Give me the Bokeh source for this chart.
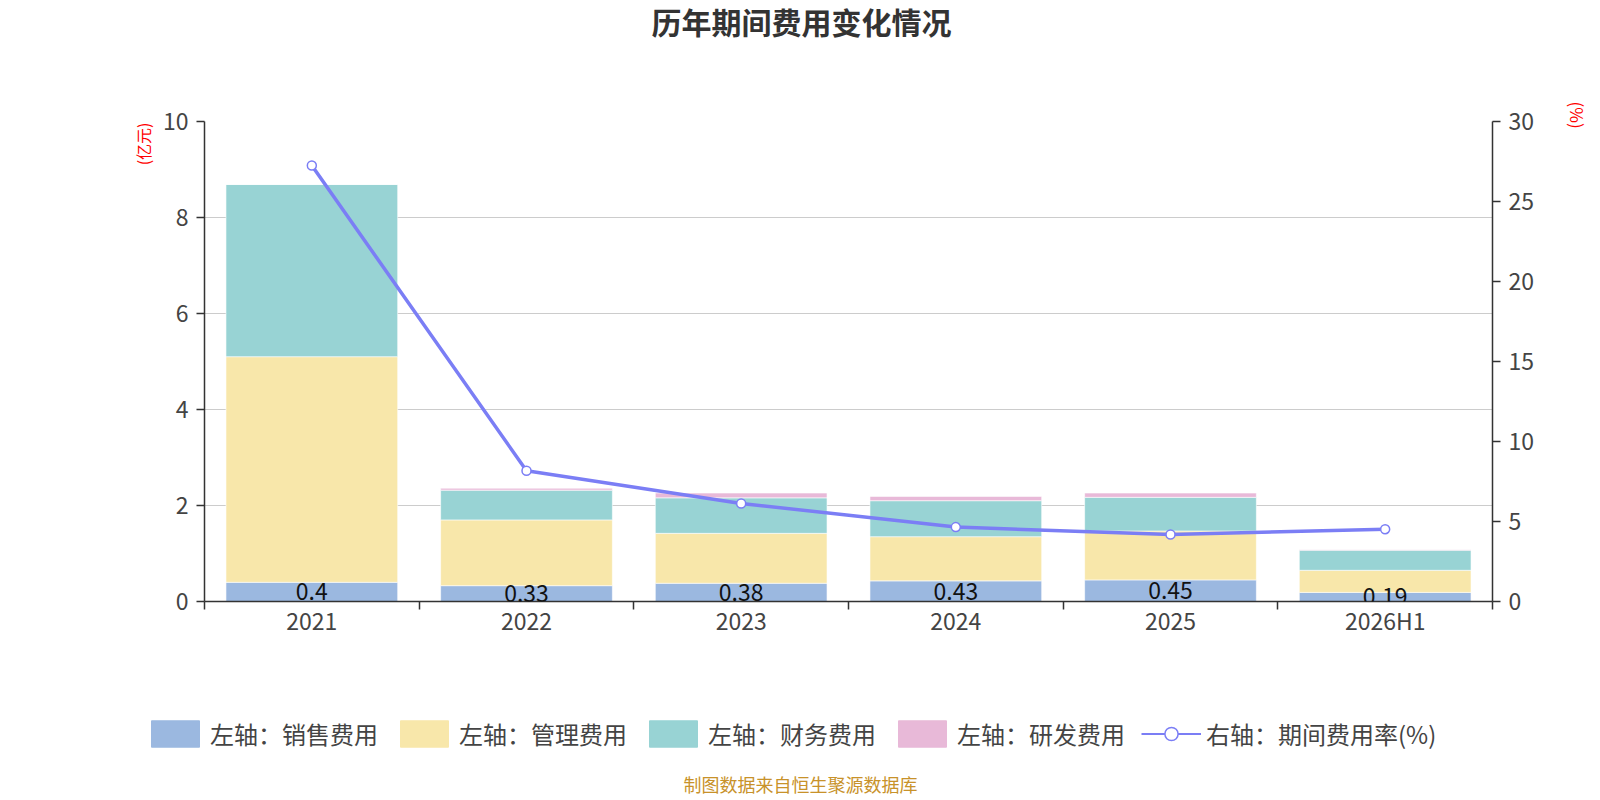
import numpy as np
from bokeh.plotting import figure
from bokeh.layouts import column
from bokeh.models import (ColumnDataSource, Range1d, LinearAxis, FixedTicker,
                          Legend, LegendItem, LabelSet, Label, Title)
from bokeh.embed import file_html
from bokeh.resources import INLINE
from bokeh.core.properties import value

# ---------------- data ----------------
categories = ["2021", "2022", "2023", "2024", "2025", "2026H1"]
sales = [0.40, 0.33, 0.38, 0.43, 0.45, 0.19]        # 销售费用 (亿元)
admin = [4.70, 1.37, 1.04, 0.92, 1.02, 0.46]        # 管理费用 (亿元)
finance = [3.59, 0.62, 0.74, 0.75, 0.70, 0.42]      # 财务费用 (亿元)
rnd = [0.00, 0.04, 0.10, 0.09, 0.09, 0.01]          # 研发费用 (亿元)
rate = [27.25, 8.17, 6.13, 4.65, 4.19, 4.52]        # 期间费用率 (%)
left_ticks = [0, 2, 4, 6, 8, 10]
right_ticks = [0, 5, 10, 15, 20, 25, 30]
series_names = ["左轴：销售费用", "左轴：管理费用", "左轴：财务费用", "左轴：研发费用"]
line_name = "右轴：期间费用率(%)"
title_text = "历年期间费用变化情况"
left_unit = "(亿元)"
right_unit = "(%)"
footer_text = "制图数据来自恒生聚源数据库"

# ---------------- style ----------------
FONT = "Noto Sans CJK SC"
bar_colors = ["#9bb8e0", "#f8e7aa", "#98d3d4", "#e8b9d8"]
line_color = "#7b7ef5"
axis_color = "#333333"
label_color = "#444444"

W = 1590
H_MAIN, H_LEG = 700, 96
FL, FR, FT, FB = 204, 97, 121, 99   # frame borders of the main chart

x = np.arange(len(categories)) + 0.5
src = ColumnDataSource(dict(
    x=x, sales=sales, admin=admin, finance=finance, rnd=rnd, rate=rate,
    label_y=np.array(sales) / 2.0,
    label_text=[f"{v:g}" for v in sales],
))

p = figure(width=W, height=H_MAIN, output_backend="svg", toolbar_location=None,
           x_range=Range1d(0, len(categories)), y_range=Range1d(left_ticks[0], left_ticks[-1]),
           min_border_left=FL, min_border_right=FR, min_border_top=FT, min_border_bottom=FB)
p.outline_line_color = None
p.background_fill_color = "white"
p.border_fill_color = "white"

p.extra_y_ranges = {"rate": Range1d(right_ticks[0], right_ticks[-1])}

# grid
p.xgrid.visible = False
p.ygrid.ticker = FixedTicker(ticks=left_ticks)
p.ygrid.grid_line_color = "#cccccc"
p.ygrid.grid_line_width = 1.2

def style_axis(ax, standoff):
    ax.major_tick_out = 8
    ax.major_tick_in = 0
    ax.major_tick_line_color = axis_color
    ax.major_tick_line_width = 1.5
    ax.minor_tick_line_color = None
    ax.axis_line_color = axis_color
    ax.axis_line_width = 1.5
    ax.major_label_text_font = FONT
    ax.major_label_text_font_size = "23px"
    ax.major_label_text_color = label_color
    ax.major_label_standoff = standoff

# x axis: labels at category centres, tick marks at category boundaries
xa = p.xaxis[0]
style_axis(xa, 0)
try:
    xa.major_label_standoff = -7
except Exception:
    pass
xa.ticker = FixedTicker(ticks=list(x), minor_ticks=list(range(len(categories) + 1)))
xa.major_label_overrides = {float(xv): c for xv, c in zip(x, categories)}
xa.major_tick_line_color = None
xa.major_tick_out = 0
xa.minor_tick_out = 8
xa.minor_tick_in = 0
xa.minor_tick_line_color = axis_color
xa.minor_tick_line_width = 1.5

# left axis
ya = p.yaxis[0]
style_axis(ya, 8)
ya.ticker = FixedTicker(ticks=left_ticks)

# right axis
ra = LinearAxis(y_range_name="rate", ticker=FixedTicker(ticks=right_ticks))
style_axis(ra, 8)
p.add_layout(ra, "right")

# stacked bars
bars = p.vbar_stack(["sales", "admin", "finance", "rnd"], x="x", width=0.8, source=src,
                    color=bar_colors, line_color="white", line_width=0.6)

# value labels for sales
p.add_layout(LabelSet(x="x", y="label_y", text="label_text", source=src,
                      text_align="center", text_baseline="middle",
                      text_font=value(FONT), text_font_size="23px", text_color="#111111"))

# rate line
ln = p.line(x="x", y="rate", source=src, y_range_name="rate", line_width=3.5, line_color=line_color)
mk = p.scatter(x="x", y="rate", source=src, y_range_name="rate", size=9,
               fill_color="white", line_color=line_color, line_width=1.5)

def spacer(s):
    return Title(text=" ", text_font_size="1px", standoff=s)

# ---- above: spacer next to frame, then the title on top
top_spacer = spacer(71)
main_title = Title(text=title_text, align="left", offset=447, vertical_align="top", standoff=0,
                   text_font=FONT, text_font_size="30px", text_font_style="bold",
                   text_color="#333333")
try:
    main_title.standoff = -6
    top_spacer.standoff = 77
except Exception:
    pass
p.add_layout(top_spacer, "above")
p.add_layout(main_title, "above")

# ---- left / right unit names
p.add_layout(Title(text=left_unit, align="right", offset=1, vertical_align="middle", standoff=7,
                   text_font=FONT, text_font_size="16px", text_font_style="normal",
                   text_color="red"), "left")
p.add_layout(spacer(23), "right")
p.add_layout(Title(text=right_unit, align="left", offset=-20, vertical_align="middle", standoff=0,
                   text_font=FONT, text_font_size="17px", text_font_style="normal",
                   text_color="red"), "right")

# ---------------- legend + footer strip ----------------
p2 = figure(width=W, height=H_LEG, output_backend="svg", toolbar_location=None,
            x_range=Range1d(0, 1), y_range=Range1d(0, 1),
            x_axis_location=None, y_axis_location=None, min_border=0)
p2.grid.visible = False
p2.outline_line_color = None
p2.background_fill_color = "white"
p2.border_fill_color = "white"

for fig in (p, p2):
    try:
        fig.frame_align = False
    except Exception:
        pass

# legend proxies (no visible data), styled like the chart's marks
nan = float("nan")
proxy_bars = [p2.vbar(x=[nan], top=[nan], width=0.1, color=c) for c in bar_colors]
proxy_ln = p2.line(x=[nan, nan], y=[nan, nan], line_width=2, line_color=line_color)
proxy_mk = p2.scatter(x=[nan], y=[nan], size=9, fill_color="white", line_color=line_color,
                      line_width=1.5)

items = [LegendItem(label=n, renderers=[r]) for n, r in zip(series_names, proxy_bars)]
items.append(LegendItem(label=line_name, renderers=[proxy_ln, proxy_mk]))
legend = Legend(items=items, orientation="horizontal", location=(145, 45),
                glyph_width=60, glyph_height=33, label_standoff=5, spacing=16,
                padding=0, margin=0, border_line_color=None, background_fill_alpha=0,
                label_text_font=FONT, label_text_font_size="24px", label_text_color=label_color)
p2.add_layout(legend)

p2.add_layout(Label(x=800, y=13, x_units="screen", y_units="screen", text=footer_text,
                    text_align="center", text_baseline="middle", text_font=FONT,
                    text_font_size="18px", text_color="#c8922a"))

layout = column(p, p2, spacing=0)
open("out.html", "w").write(file_html(layout, INLINE))
